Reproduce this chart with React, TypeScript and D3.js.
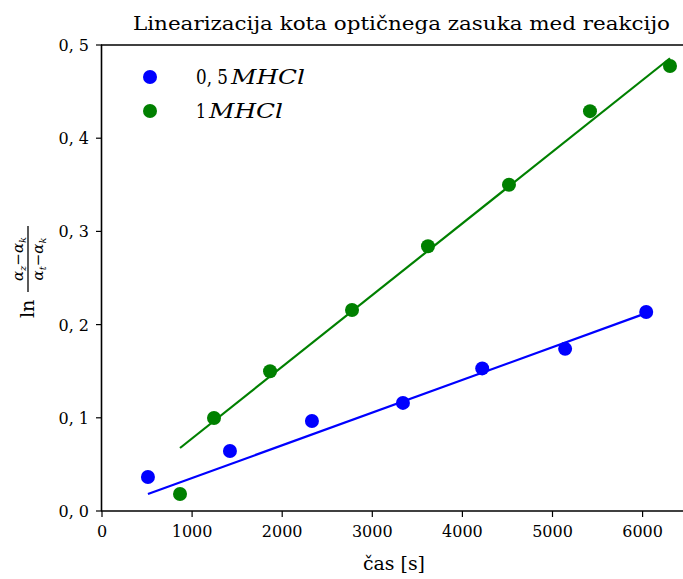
import React from "react";
import * as d3 from "d3";

const W = 683;
const H = 579;

const seriesNames = ["0, 5", "1"];
const seriesColors = ["#0000ff", "#008000"];
const x05 = [510, 1420, 2330, 3340, 4220, 5140, 6040];
const y05 = [0.0365, 0.0644, 0.0966, 0.116, 0.153, 0.174, 0.2135];
const x1 = [866, 1243, 1865, 2775, 3618, 4517, 5416, 6304];
const y1 = [0.0182, 0.0998, 0.15, 0.2157, 0.284, 0.35, 0.429, 0.4775];
// fitted lines: [slope, intercept]
const fits = [
  [3.51e-5, 0.0003],
  [7.69e-5, 0.001],
];
const xTicks = [0, 1000, 2000, 3000, 4000, 5000, 6000];
const yTicks = [0, 0.1, 0.2, 0.3, 0.4, 0.5];
const yTickLabels = ["0, 0", "0, 1", "0, 2", "0, 3", "0, 4", "0, 5"];
const title = "Linearizacija kota optičnega zasuka med reakcijo";
const xLabel = "čas [s]";

const FONT = "DejaVu Serif";

export default function App() {
  const left = 102;
  const top = 45;
  const bottom = 511;
  const x = d3.scaleLinear().domain([0, 1000]).range([left, left + 90.1]);
  const y = d3.scaleLinear().domain([0, 0.5]).range([bottom, top]);
  const data = [
    { xs: x05, ys: y05 },
    { xs: x1, ys: y1 },
  ];
  const line = d3
    .line<number[]>()
    .x((d) => x(d[0]))
    .y((d) => y(d[1]));

  return (
    <svg
      width={W}
      height={H}
      style={{ position: "absolute", left: 0, top: 0, background: "#fff", fontFamily: FONT }}
    >
      <rect width={W} height={H} fill="#fff" />
      {data.map((s, i) => {
        const [m, b] = fits[i];
        const x0 = d3.min(s.xs)!;
        const x1v = d3.max(s.xs)!;
        return (
          <g key={i}>
            {s.xs.map((xv, j) => (
              <circle
                key={j}
                cx={x(xv)}
                cy={y(s.ys[j])}
                r={7}
                fill={seriesColors[i]}
              />
            ))}
            <path
              d={line([
                [x0, m * x0 + b],
                [x1v, m * x1v + b],
              ])!}
              stroke={seriesColors[i]}
              strokeWidth={2.2}
              fill="none"
            />
          </g>
        );
      })}
      {/* spines */}
      <line x1={left - 0.5} x2={left - 0.5} y1={top} y2={bottom} stroke="#000" strokeWidth={1.6} />
      <line x1={left - 1} x2={W} y1={bottom} y2={bottom} stroke="#000" strokeWidth={1.6} />
      <line x1={left - 1} x2={W} y1={top} y2={top} stroke="#000" strokeWidth={1.6} />
      {/* x ticks */}
      {xTicks.map((t) => (
        <g key={t}>
          <line x1={x(t)} x2={x(t)} y1={bottom} y2={bottom + 6} stroke="#000" strokeWidth={1.2} />
          <text x={x(t)} y={bottom + 26} textAnchor="middle" fontSize={16}>
            {t}
          </text>
        </g>
      ))}
      {yTicks.map((t, i) => (
        <g key={t}>
          <line x1={left - 6} x2={left} y1={y(t)} y2={y(t)} stroke="#000" strokeWidth={1.2} />
          <text x={left - 13} y={y(t) + 6} textAnchor="end" fontSize={16}>
            {yTickLabels[i]}
          </text>
        </g>
      ))}
      {/* title */}
      <text x={133} y={30} fontSize={19} textLength={537} lengthAdjust="spacingAndGlyphs">
        {title}
      </text>
      {/* x label */}
      <text x={363} y={570} fontSize={19} textLength={62} lengthAdjust="spacingAndGlyphs">
        {xLabel}
      </text>
      {/* y label */}
      <g transform="translate(34,270) rotate(-90)">
        <text x={-48} y={0} fontSize={19}>ln</text>
        <line x1={-22} x2={44} y1={-6} y2={-6} stroke="#000" strokeWidth={1.3} />
        <text x={11} y={-11} textAnchor="middle" fontSize={15}>
          <tspan fontStyle="italic">α</tspan>
          <tspan fontSize={10} dy={3} fontStyle="italic">z</tspan>
          <tspan dy={-3}>−</tspan>
          <tspan fontStyle="italic">α</tspan>
          <tspan fontSize={10} dy={3} fontStyle="italic">k</tspan>
        </text>
        <text x={11} y={9} textAnchor="middle" fontSize={15}>
          <tspan fontStyle="italic">α</tspan>
          <tspan fontSize={10} dy={3} fontStyle="italic">t</tspan>
          <tspan dy={-3}>−</tspan>
          <tspan fontStyle="italic">α</tspan>
          <tspan fontSize={10} dy={3} fontStyle="italic">k</tspan>
        </text>
      </g>
      {/* legend */}
      {seriesNames.map((n, i) => (
        <g key={n} transform={`translate(0, ${77 + i * 34})`}>
          <circle cx={150} cy={0} r={7} fill={seriesColors[i]} />
          <text x={196} y={7} fontSize={20} textLength={i === 0 ? 32 : 10} lengthAdjust="spacingAndGlyphs">
            {n}
          </text>
          <text
            x={i === 0 ? 231 : 209}
            y={7}
            fontSize={20}
            fontStyle="italic"
            textLength={74}
            lengthAdjust="spacingAndGlyphs"
          >
            MHCl
          </text>
        </g>
      ))}
    </svg>
  );
}
